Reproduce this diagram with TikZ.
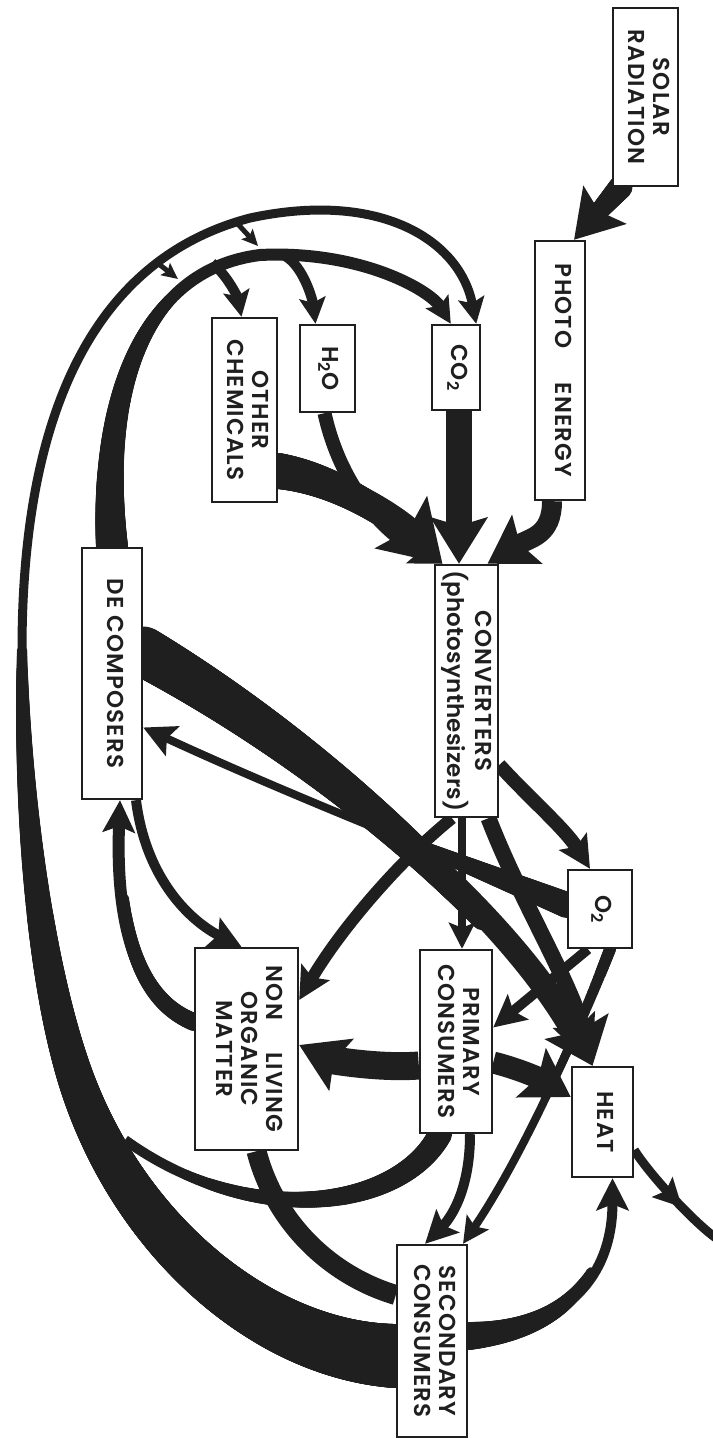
\documentclass[tikz,border=0pt]{standalone}
\usepackage{graphicx}
\usepackage{fontspec}
\setmainfont{Poppins}[LetterSpace=5, BoldFont={Poppins SemiBold}]
\usetikzlibrary{arrows.meta,calc,decorations.markings}
\definecolor{ink}{gray}{0.12}
\pgfdeclarelayer{paper}
\pgfdeclarelayer{back}
\pgfsetlayers{paper,back,main}
\newcommand{\boxtext}[1]{\rotatebox{-90}{\begin{tabular}{@{}c@{}}#1\end{tabular}}}

\begin{document}
\begin{tikzpicture}[x=1pt,y=-1pt,
    box/.style={draw=ink, line width=2.4pt, fill=white, inner sep=0pt, text=ink,
        font=\fontsize{23}{25}\selectfont\bfseries},
    flow/.style={draw=ink, line width=#1},
    bighead/.style={-{Stealth[length=58pt,width=72pt,inset=10pt]}},
    fathead/.style={-{Stealth[length=46pt,width=56pt,inset=8pt]}},
    midhead/.style={-{Stealth[length=32pt,width=32pt,inset=6pt]}},
    smallhead/.style={-{Stealth[length=26pt,width=26pt,inset=5pt]}},
    barb/.style={draw=ink, line width=5pt, -{Stealth[length=16pt,width=15pt,inset=3pt]}},
    taper/.style n args={3}{postaction={decorate,decoration={markings,
        mark=between positions 0 and #3 step 1.5pt with {%
          \pgfmathsetmacro\tapf{\pgfkeysvalueof{/pgf/decoration/mark info/distance from start}/(#3*\pgfdecoratedpathlength)}%
          \pgfmathsetmacro\tapr{(#1+(#2-#1)*\tapf)/2}%
          \fill[ink] (0,0) circle (\tapr pt);}}}},
]
\useasboundingbox (0,0) rectangle (712,1439);
\begin{pgfonlayer}{paper}
  \fill[white] (0,0) rectangle (712,1439);
\end{pgfonlayer}

% compartments
\node[box, minimum width=65, minimum height=178] (solar) at (645.5,97) {\boxtext{SOLAR\\RADIATION}};
\node[box, minimum width=50, minimum height=259] (photo) at (560,370.5) {\boxtext{PHOTO\hspace{1.5em}ENERGY}};
\node[box, minimum width=48, minimum height=85] (co2) at (456,367.5) {\boxtext{CO\textsubscript{2}}};
\node[box, minimum width=55, minimum height=87] (water) at (327.5,368.5) {\boxtext{H\textsubscript{2}O}};
\node[box, minimum width=65, minimum height=184] (chem) at (244.5,410) {\boxtext{OTHER\\CHEMICALS}};
\node[box, minimum width=63, minimum height=252] (conv) at (466.5,691) {\boxtext{CONVERTERS\\{\addfontfeature{LetterSpace=1}(photosynthesizers)}}};
\node[box, minimum width=60, minimum height=251] (decomp) at (112,673.5) {\boxtext{DE COMPOSERS}};
\node[box, minimum width=64, minimum height=78] (oxy) at (600,909) {\boxtext{O\textsubscript{2}}};
\node[box, minimum width=72, minimum height=183] (prim) at (456,1041.5) {\boxtext{PRIMARY\\CONSUMERS}};
\node[box, minimum width=103, minimum height=202] (nonliv) at (246.5,1049) {\boxtext{NON\hspace{1.4em}LIVING\\ORGANIC\\MATTER}};
\node[box, minimum width=61, minimum height=110] (heat) at (602.5,1122) {\boxtext{HEAT}};
\node[box, minimum width=70, minimum height=192] (second) at (432,1341) {\boxtext{SECONDARY\\CONSUMERS}};

% free ends on the loops
\coordinate (loopbend) at (22,650);
\coordinate (loopjoin) at (125,1140);
\coordinate (archem) at (212,263);
\coordinate (arwater) at (285,256);
\coordinate (barbA) at (236,222);
\coordinate (barbAend) at (258,246);
\coordinate (barbB) at (160,265);
\coordinate (barbBend) at (178,279);
\coordinate (away) at (716,1238);

\begin{pgfonlayer}{back}
% energy in
\draw[flow=18, fathead, taper={24}{18}{0.5}] ($(solar.south)+(-25,0)$) -- ($(photo.north)+(14,0)$);
\draw[flow=20, fathead] ($(photo.south)+(-8,0)$) .. controls +(0,35) and +(42,-26) .. ($(conv.north)+(21,0)$);

% raw materials into the converters
\draw[flow=26, fathead] ($(co2.south)+(3,0)$) -- ($(conv.north)+(-7.5,0)$);
\draw[flow=14, midhead] ($(water.south)+(-3,0)$) .. controls +(15,68) and +(-63,-33) .. ($(conv.north)+(-24,0)$);
\draw[flow=26, bighead, taper={36}{26}{0.6}] ($(chem.east)+(0,61)$) .. controls +(63,9) and +(-43,-43) .. ($(conv.north)+(-24,0)$);

% decomposers back to the raw materials
\draw[flow=12, smallhead, taper={32}{12}{0.45}] (decomp.north) .. controls (100,400) and (140,270) .. (260,255) .. controls (360,250) and (430,290) .. ($(co2.north west)+(20,0)$);
\draw[flow=10, smallhead] (archem) .. controls +(15,12) and +(-4,-20) .. ($(chem.north)+(-3,0)$);
\draw[flow=10, smallhead] (arwater) .. controls +(18,10) and +(-3,-25) .. ($(water.north)+(-12,0)$);

% outer loop from the secondary consumers
\draw[flow=10, taper={64}{10}{1}] ($(second.west)+(0,15)$) .. controls (260,1350) and (120,1230) .. (70,1060) .. controls (40,960) and (22,800) .. (loopbend);
\draw[flow=9, smallhead] (loopbend) .. controls (22,420) and (90,260) .. (250,218) .. controls (380,190) and (460,240) .. ($(co2.north east)+(-5,0)$);
\draw[barb] (barbA) -- (barbAend);
\draw[barb] (barbB) -- (barbBend);
\draw[flow=10, taper={24}{10}{0.8}] ($(prim.south)+(-16,0)$) .. controls (400,1210) and (250,1230) .. (loopjoin);
\draw[flow=20] ($(nonliv.south)+(10,0)$) .. controls +(18,70) and +(-67,-20) .. ($(second.west)+(0,-46)$);

% decomposers and non living matter
\draw[flow=10, midhead] ($(decomp.south)+(24,0)$) .. controls +(10,80) and +(-50,-25) .. ($(nonliv.north)+(-5,0)$);
\draw[flow=12, midhead, taper={18}{12}{0.6}] ($(nonliv.west)+(0,-27)$) .. controls +(-55,-22) and +(-5,130) .. ($(decomp.south)+(8,0)$);

% converters out
\draw[flow=8, smallhead] ($(conv.south)+(-4.5,0)$) -- ($(prim.north)+(6,0)$);
\draw[flow=12, midhead] ($(conv.south)+(-14.5,0)$) .. controls (400,860) and (340,930) .. ($(nonliv.east)+(0,-49)$);
\draw[flow=14, midhead] ($(conv.east)+(0,74)$) .. controls +(32,35) and +(-25,-40) .. ($(oxy.north)+(-10,0)$);
\draw[flow=16, fathead] ($(conv.south)+(22,0)$) .. controls (520,900) and (570,980) .. ($(heat.north)+(-10,0)$);
\draw[flow=24, fathead, taper={50}{24}{0.7}] ($(decomp.east)+(0,-22)$) .. controls (300,740) and (500,900) .. ($(heat.north)+(-10,0)$);

% oxygen
\draw[flow=8, midhead, taper={26}{8}{0.45}] ($(oxy.west)+(0,-4)$) .. controls (480,870) and (300,800) .. ($(decomp.east)+(0,54)$);
\draw[flow=10, midhead] ($(oxy.south)+(-12,0)$) -- ($(prim.east)+(0,-14)$);
\draw[flow=8, smallhead, taper={12}{8}{0.5}] ($(oxy.south)+(10,0)$) .. controls (575,1040) and (520,1160) .. ($(second.north)+(31,0)$);

% consumers
\draw[flow=28, fathead] ($(prim.west)+(0,24)$) .. controls +(-40,3) and +(32,15) .. ($(nonliv.east)+(0,-4)$);
\draw[flow=22, fathead] ($(prim.east)+(0,21)$) .. controls +(28,7) and +(-28,-17) .. ($(heat.west)+(0,-25)$);
\draw[flow=10, midhead] ($(prim.south)+(14,0)$) .. controls +(0,57) and +(25,-25) .. ($(second.north)+(-7,0)$);
\draw[flow=10, midhead, taper={28}{10}{0.6}] ($(second.east)+(0,-5)$) .. controls +(93,-6) and +(0,103) .. ($(heat.south)+(10,0)$);

% heat leaves
\draw[flow=9, postaction={decorate, decoration={markings, mark=at position 0.62 with {\arrow[ink]{Stealth[length=28pt,width=28pt,inset=5pt]}}}}] ($(heat.east)+(0,28)$) .. controls +(18,28) and +(-20,-14) .. (away);
\end{pgfonlayer}
\end{tikzpicture}
\end{document}
